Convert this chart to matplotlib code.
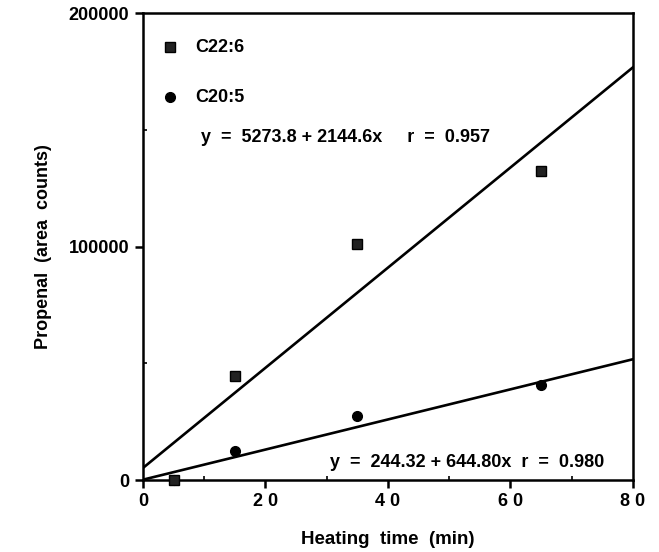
import numpy as np
import matplotlib
matplotlib.use("Agg")
import matplotlib.pyplot as plt
from matplotlib.ticker import MultipleLocator

plt.rcParams['font.family'] = ['Liberation Sans', 'DejaVu Sans']
plt.rcParams['font.weight'] = 'bold'
plt.rcParams['axes.labelweight'] = 'bold'

# heating time (min) and propenal area counts
time_c22 = [5, 15, 35, 65]
area_c22 = [0, 44500, 101000, 132500]
time_c20 = [5, 15, 35, 65]
area_c20 = [0, 12400, 27400, 41000]

# regression lines: intercept, slope
fit_c22 = [5273.8, 2144.6]
fit_c20 = [244.32, 644.80]
eq_c22 = "y  =  5273.8 + 2144.6x     r  =  0.957"
eq_c20 = "y  =  244.32 + 644.80x  r  =  0.980"

fig = plt.figure(figsize=(6.59, 5.52), dpi=100)
ax = fig.add_axes([0.217, 0.130, 0.7435, 0.846])

xl = np.array([0, 80])
ax.plot(xl, fit_c22[0] + fit_c22[1] * xl, color='black', lw=1.9)
ax.plot(xl, fit_c20[0] + fit_c20[1] * xl, color='black', lw=1.9)

ax.plot(time_c20, area_c20, 'o', color='black', ms=7, zorder=3, clip_on=False)
ax.plot(time_c22, area_c22, 's', color='black', ms=7, zorder=4, clip_on=False,
        markerfacecolor='#222222', markeredgecolor='black')

# legend drawn by hand like the original
ax.plot([4.4], [185400], 's', color='black', ms=6.5, markerfacecolor='#222222')
ax.plot([4.4], [164000], 'o', color='black', ms=7)
ax.text(8.5, 185400, "C22:6", fontsize=13, va='center', ha='left')
ax.text(8.5, 164000, "C20:5", fontsize=13, va='center', ha='left')
ax.text(9.5, 146900, eq_c22, fontsize=13, va='center', ha='left')
ax.text(30.5, 7700, eq_c20, fontsize=13, va='center', ha='left')

ax.set_xlim(0, 80)
ax.set_ylim(0, 200000)
ax.xaxis.set_minor_locator(MultipleLocator(10))
ax.yaxis.set_minor_locator(MultipleLocator(50000))
ax.set_xticks([0, 20, 40, 60, 80])
ax.set_xticklabels(['0', '2 0', '4 0', '6 0', '8 0'], fontsize=13)
ax.set_yticks([0, 100000, 200000])
ax.set_yticklabels(['0', '100000', '200000'], fontsize=13)
ax.tick_params(axis='both', which='major', direction='out', length=6, width=1.8, pad=4)
ax.tick_params(axis='x', which='major', pad=3)
ax.tick_params(axis='both', which='minor', direction='in', length=3, width=1.2)

for s in ax.spines.values():
    s.set_linewidth(1.8)

ax.set_xlabel("Heating  time  (min)", fontsize=13.5, labelpad=15)
ax.set_ylabel("Propenal  (area  counts)", fontsize=13, labelpad=12)

fig.savefig("out.png", dpi=100)
